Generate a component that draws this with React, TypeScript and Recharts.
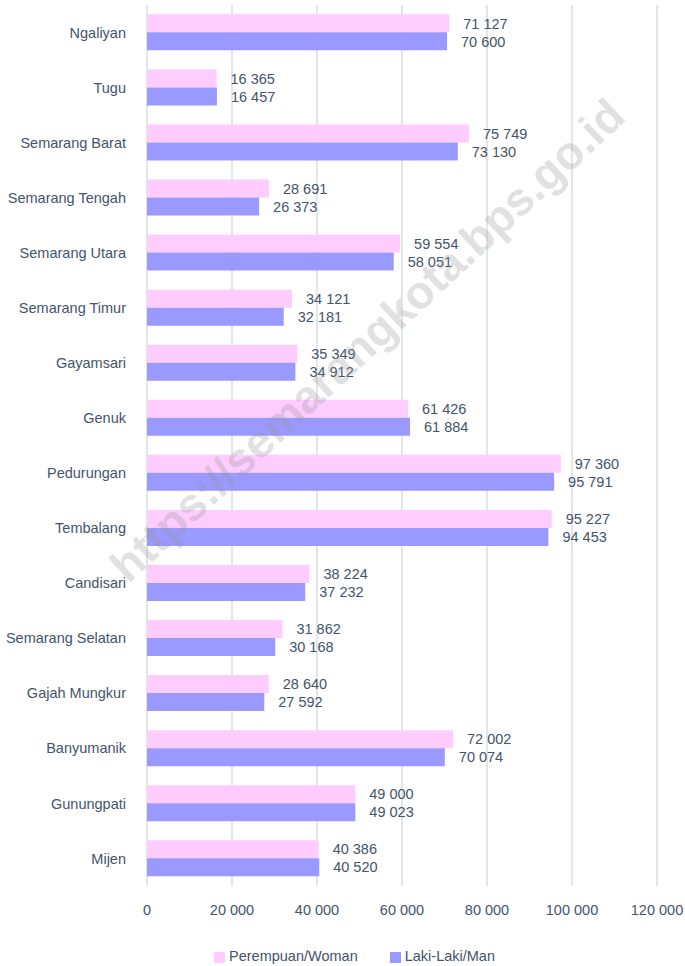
import React from 'react';
import { BarChart, Bar, XAxis, YAxis, CartesianGrid, Legend, LabelList } from 'recharts';

const districts = [
  'Ngaliyan', 'Tugu', 'Semarang Barat', 'Semarang Tengah', 'Semarang Utara', 'Semarang Timur',
  'Gayamsari', 'Genuk', 'Pedurungan', 'Tembalang', 'Candisari', 'Semarang Selatan',
  'Gajah Mungkur', 'Banyumanik', 'Gunungpati', 'Mijen',
];
const woman = [71127, 16365, 75749, 28691, 59554, 34121, 35349, 61426, 97360, 95227, 38224, 31862, 28640, 72002, 49000, 40386];
const man = [70600, 16457, 73130, 26373, 58051, 32181, 34912, 61884, 95791, 94453, 37232, 30168, 27592, 70074, 49023, 40520];
const xTicks = [0, 20000, 40000, 60000, 80000, 100000, 120000];
const legendOrder = ['Perempuan/Woman', 'Laki-Laki/Man'];

const data = districts.map((name, i) => ({ name, woman: woman[i], man: man[i] }));

const FONT = '"Liberation Sans", Arial, sans-serif';
const TEXT = '#44546A';
const SIZE = 14.5;
const fmt = (v: number) => String(v).replace(/\B(?=(\d{3})+(?!\d))/g, ' ');

export default function App() {
  return (
    <div style={{ position: 'absolute', left: 0, top: 0, width: 685, height: 966, fontFamily: FONT }}>
      <BarChart
        width={685}
        height={966}
        data={data}
        layout="vertical"
        margin={{ top: 5, right: 28, left: 0, bottom: 2 }}
        barCategoryGap="17%"
        barGap={0}
      >
        <CartesianGrid horizontal={false} stroke="#D9DEE4" strokeWidth={1.5} />
        <XAxis
          type="number"
          domain={[0, 120000]}
          ticks={xTicks}
          tickFormatter={fmt}
          axisLine={false}
          tickLine={false}
          tickMargin={13}
          height={62}
          tick={{ fill: TEXT, fontSize: SIZE, fontFamily: FONT }}
        />
        <YAxis
          type="category"
          dataKey="name"
          width={147}
          axisLine={false}
          tickLine={false}
          tickMargin={15}
          interval={0}
          tick={{ fill: TEXT, fontSize: SIZE, fontFamily: FONT }}
        />
        <Legend
          verticalAlign="bottom"
          iconType="square"
          iconSize={11}
          itemSorter={(item: { value: string }) => legendOrder.indexOf(item.value)}
          wrapperStyle={{ fontSize: SIZE, fontFamily: FONT, left: 42 }}
          formatter={(v: string) => <span style={{ color: TEXT, marginRight: 22 }}>{v}</span>}
        />
        <Bar dataKey="woman" name="Perempuan/Woman" fill="#FFCCFF" isAnimationActive={false}>
          <LabelList dataKey="woman" position="right" offset={14} formatter={fmt} fill={TEXT} fontSize={SIZE} fontFamily={FONT} />
        </Bar>
        <Bar dataKey="man" name="Laki-Laki/Man" fill="#9999FF" isAnimationActive={false}>
          <LabelList dataKey="man" position="right" offset={14} formatter={fmt} fill={TEXT} fontSize={SIZE} fontFamily={FONT} />
        </Bar>
      </BarChart>
      <div
        style={{
          position: 'absolute',
          left: 367,
          top: 340,
          transform: 'translate(-50%, -50%) rotate(-43deg)',
          fontFamily: '"Liberation Sans", sans-serif',
          fontWeight: 700,
          fontSize: 46,
          color: 'rgba(150,150,150,0.3)',
          whiteSpace: 'nowrap',
          pointerEvents: 'none',
        }}
      >
        https://semarangkota.bps.go.id
      </div>
    </div>
  );
}
